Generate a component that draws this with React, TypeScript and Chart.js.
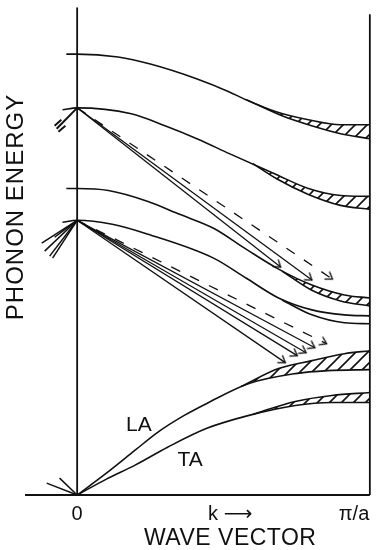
import React, { useEffect, useRef } from "react";
import { Chart, registerables } from "chart.js";

Chart.register(...registerables);

type Pt = [number, number];

// k in units of pi/a, E in arbitrary energy units
const xTickValues = [0, 0.523, 0.946];
const xTickLabels = ["0", "k \u27F6", "\u03C0/a"];
const xTitle = "WAVE VECTOR";
const yTitle = "PHONON ENERGY";
const branchLabels = ["LA", "TA"];
const branchLabelK = [0.211, 0.386];
const branchLabelE = [70, 35];

// optical branches (main curve and the split-off edge of each hatched band)
const optic1: Pt[] = [[-0.037, 443], [0, 443], [0.14, 440], [0.25, 433], [0.41, 418], [0.52, 405], [0.57, 398], [0.68, 385], [0.79, 377], [0.9, 372], [1.0, 372]];
const optic1Split: Pt[] = [[0.58, 397], [0.7, 381], [0.79, 372], [0.9, 363], [1.0, 358]];
const optic2: Pt[] = [[-0.05, 387], [0, 389], [0.185, 383], [0.3, 371], [0.409, 358], [0.52, 343], [0.68, 322], [0.79, 308], [0.9, 301], [1.0, 300]];
const optic2Split: Pt[] = [[0.6, 333], [0.68, 318], [0.79, 302], [0.9, 291], [1.0, 287]];
const optic3: Pt[] = [[-0.037, 308], [0, 308], [0.107, 306], [0.242, 295], [0.35, 282], [0.466, 268], [0.577, 247], [0.688, 227], [0.802, 211], [0.913, 201], [1.0, 198]];
const optic3Split: Pt[] = [[0.7, 225], [0.8, 206], [0.9, 195], [1.0, 190]];
const optic4: Pt[] = [[-0.05, 274], [0, 276], [0.12, 272], [0.242, 262], [0.466, 238], [0.577, 218], [0.688, 198], [0.802, 186], [0.913, 181], [1.0, 180]];
const optic4Split: Pt[] = [[0.7, 196], [0.802, 181], [0.913, 173], [1.0, 172]];
// acoustic branches
const laBranch: Pt[] = [[0, 0], [0.1, 22], [0.198, 45], [0.275, 63], [0.366, 80], [0.443, 92], [0.587, 112], [0.745, 122], [0.856, 125], [1.0, 126]];
const laSplit: Pt[] = [[0.56, 109], [0.688, 127], [0.802, 135], [0.913, 142], [1.0, 145]];
const taBranch: Pt[] = [[0, 0], [0.1, 16], [0.198, 30], [0.309, 48], [0.443, 67], [0.587, 80], [0.745, 90], [0.87, 93], [1.0, 93]];
const taSplit: Pt[] = [[0.6, 81], [0.745, 94], [0.87, 100], [1.0, 103]];

// decay arrows
const sourceUpper: Pt = [0, 389];
const sourceLower: Pt = [0, 276];
const upperSolidTargets: Pt[] = [[0.695, 229], [0.802, 216]];
const upperDashedTargets: Pt[] = [[0.872, 217]];
const lowerSolidTargets: Pt[] = [[0.711, 133], [0.752, 140], [0.782, 143], [0.812, 148]];
const lowerDashedTargets: Pt[] = [[0.852, 152]];
// incoming strokes
const upperFeed: [Pt, Pt][] = [[[-0.07, 368], [0, 389]], [[-0.077, 371], [-0.054, 377]], [[-0.064, 365], [-0.04, 371]]];
const lowerFeedStarts: Pt[] = [[-0.121, 253], [-0.111, 245], [-0.094, 240], [-0.084, 238], [-0.077, 259]];
const originFeedStarts: Pt[] = [[-0.104, 12], [-0.06, 17]];

const axisKStart = -0.178;
const axisETop = 490;
const zoneEdgeTop = 483;

const FONT = '"Liberation Sans", Arial, Helvetica, "DejaVu Sans", sans-serif';

export default function App() {
  const ref = useRef<HTMLCanvasElement>(null);

  useEffect(() => {
    const canvas = ref.current!;
    // hatch pattern
    const hc = document.createElement("canvas");
    hc.width = 12;
    hc.height = 12;
    const hctx = hc.getContext("2d")!;
    hctx.strokeStyle = "#111";
    hctx.lineWidth = 1.6;
    hctx.beginPath();
    hctx.moveTo(0, 12);
    hctx.lineTo(12, 0);
    hctx.moveTo(-1, 1);
    hctx.lineTo(1, -1);
    hctx.moveTo(11, 13);
    hctx.lineTo(13, 11);
    hctx.stroke();
    const pattern = canvas.getContext("2d")!.createPattern(hc, "repeat");

    // chevron arrowhead, tip at center pointing +x
    const chev = document.createElement("canvas");
    chev.width = 14;
    chev.height = 14;
    const cctx = chev.getContext("2d")!;
    cctx.strokeStyle = "#111";
    cctx.lineWidth = 1.5;
    cctx.beginPath();
    cctx.moveTo(0.5, 2.5);
    cctx.lineTo(7, 7);
    cctx.lineTo(0.5, 11.5);
    cctx.stroke();

    const datasets: any[] = [];
    const toXY = (pts: Pt[]) => pts.map(([x, y]) => ({ x, y }));
    const addLine = (pts: Pt[], extra: any = {}) => {
      datasets.push({
        data: toXY(pts),
        showLine: true,
        borderColor: "#111",
        borderWidth: 1.6,
        pointRadius: 0,
        fill: false,
        cubicInterpolationMode: "monotone",
        ...extra,
      });
      return datasets.length - 1;
    };
    const straight = { cubicInterpolationMode: "default", tension: 0 };

    // axes and zone boundary
    addLine([[axisKStart, 0], [1, 0]], { ...straight, borderWidth: 1.8 });
    addLine([[0, 0], [0, axisETop]], { ...straight, borderWidth: 1.8 });
    addLine([[1, 0], [1, zoneEdgeTop]], { ...straight, borderWidth: 1.8 });

    const bands: [Pt[], Pt[], boolean][] = [
      [optic1, optic1Split, true],
      [optic2, optic2Split, true],
      [optic3, optic3Split, true],
      [optic4, optic4Split, false],
      [laBranch, laSplit, true],
      [taBranch, taSplit, true],
    ];
    bands.forEach(([main, split, hatched]) => {
      const mi = addLine(main);
      addLine(split, hatched ? { fill: { target: mi }, backgroundColor: pattern } : {});
    });

    const rotation = (c: any) => {
      const ch = c.chart;
      const d = c.dataset.data;
      const n = d.length;
      const xs = ch.scales.x;
      const ys = ch.scales.y;
      const dx = xs.getPixelForValue(d[n - 1].x) - xs.getPixelForValue(d[n - 2].x);
      const dy = ys.getPixelForValue(d[n - 1].y) - ys.getPixelForValue(d[n - 2].y);
      return (Math.atan2(dy, dx) * 180) / Math.PI;
    };
    const arrow = (from: Pt, to: Pt, dashed: boolean) =>
      addLine([from, to], {
        ...straight,
        borderWidth: 1.3,
        borderDash: dashed ? [10, 11] : [],
        pointRadius: [0, 6],
        pointStyle: chev,
        pointRotation: rotation,
      });
    upperSolidTargets.forEach((t) => arrow(sourceUpper, t, false));
    upperDashedTargets.forEach((t) => arrow(sourceUpper, t, true));
    lowerSolidTargets.forEach((t) => arrow(sourceLower, t, false));
    lowerDashedTargets.forEach((t) => arrow(sourceLower, t, true));

    upperFeed.forEach(([a, b]) => addLine([a, b], { ...straight, borderWidth: 2 }));
    lowerFeedStarts.forEach((s) => addLine([s, sourceLower], { ...straight, borderWidth: 1.5 }));
    originFeedStarts.forEach((s) => addLine([s, [0, 0]], { ...straight, borderWidth: 1.5 }));

    const textPlugin = {
      id: "textLabels",
      afterDraw(chart: any) {
        const { ctx, scales } = chart;
        ctx.save();
        ctx.fillStyle = "#111";
        ctx.font = `21px ${FONT}`;
        ctx.textAlign = "center";
        ctx.textBaseline = "middle";
        branchLabels.forEach((t, i) => {
          ctx.fillText(t, scales.x.getPixelForValue(branchLabelK[i]), scales.y.getPixelForValue(branchLabelE[i]));
        });
        // x-axis title
        ctx.font = `23px ${FONT}`;
        try {
          (ctx as any).letterSpacing = "0.5px";
        } catch (e) {}
        ctx.fillText(xTitle, scales.x.getPixelForValue(0.523), 539);
        // y-axis title
        ctx.translate(22.5, 207);
        ctx.rotate(-Math.PI / 2);
        ctx.font = `24px ${FONT}`;
        try {
          (ctx as any).letterSpacing = "1px";
        } catch (e) {}
        ctx.textBaseline = "alphabetic";
        ctx.fillText(yTitle, 0, 0);
        ctx.restore();
      },
    };

    const chart = new Chart(canvas, {
      type: "scatter",
      data: { datasets },
      options: {
        animation: false,
        responsive: true,
        maintainAspectRatio: false,
        events: [],
        layout: { padding: { left: 23, right: 1, top: 5, bottom: 22 } },
        plugins: { legend: { display: false }, tooltip: { enabled: false } },
        scales: {
          x: {
            type: "linear",
            min: -0.185,
            max: 1.02,
            grid: { display: false, drawTicks: false },
            border: { display: false },
            afterBuildTicks: (s: any) => {
              s.ticks = xTickValues.map((v) => ({ value: v }));
            },
            ticks: {
              autoSkip: false,
              maxRotation: 0,
              padding: 2,
              color: "#111",
              font: { size: 20, family: FONT },
              callback: (_v: any, i: number) => xTickLabels[i],
            },
            title: { display: false },
          },
          y: { type: "linear", display: false, min: -5, max: 490 },
        },
      },
      plugins: [textPlugin],
    } as any);
    return () => chart.destroy();
  }, []);

  return (
    <div style={{ position: "fixed", left: 0, top: 0, width: 383, height: 550, background: "#fff" }}>
      <canvas ref={ref} />
    </div>
  );
}
